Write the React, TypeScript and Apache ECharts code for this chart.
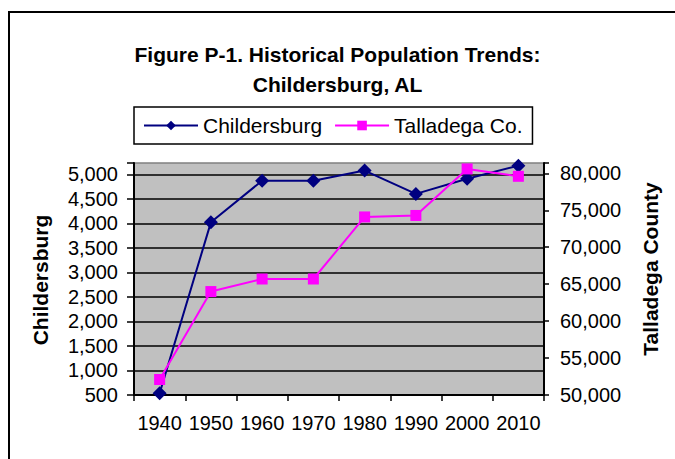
import React, { useEffect, useRef } from "react";
import * as echarts from "echarts";

const years = ["1940", "1950", "1960", "1970", "1980", "1990", "2000", "2010"];
const childersburg = [535, 4020, 4870, 4870, 5075, 4600, 4910, 5175];
const talladega = [52100, 64000, 65700, 65700, 74100, 74300, 80600, 79600];
const seriesNames = ["Childersburg", "Talladega Co."];
const titleLines = ["Figure P-1. Historical Population Trends:", "Childersburg, AL"];
const leftAxisName = "Childersburg";
const rightAxisName = "Talladega County";

const FONT = "'Liberation Sans', Arial, sans-serif";

const fmt = (v: number) => v.toLocaleString("en-US");

export default function App() {
  const ref = useRef<HTMLDivElement>(null);
  useEffect(() => {
    if (!ref.current) return;
    const chart = echarts.init(ref.current, undefined, { renderer: "svg" });
    chart.setOption({
      animation: false,
      backgroundColor: "#ffffff",
      textStyle: { fontFamily: FONT },
      title: {
        text: titleLines.join("\n"),
        left: "center",
        top: 34,
        textStyle: {
          fontFamily: FONT,
          fontSize: 21,
          fontWeight: "bold",
          color: "#000",
          lineHeight: 30,
        },
      },
      legend: {
        data: seriesNames,
        left: 134,
        top: 107,
        orient: "horizontal",
        itemWidth: 54,
        itemHeight: 12,
        itemGap: 12,
        padding: [8, 10, 8, 9],
        borderColor: "#000",
        borderWidth: 1.5,
        textStyle: { fontFamily: FONT, fontSize: 21, color: "#000" },
      },
      grid: {
        left: 134,
        right: 131,
        top: 163,
        bottom: 64,
        show: true,
        backgroundColor: "#c0c0c0",
        borderColor: "#808080",
        borderWidth: 1.5,
      },
      xAxis: {
        type: "category",
        data: years,
        boundaryGap: true,
        axisLine: { lineStyle: { color: "#000", width: 2 } },
        axisTick: { show: true, length: 6, lineStyle: { color: "#000", width: 1.5 } },
        axisLabel: {
          interval: 0,
          margin: 18,
          fontFamily: FONT,
          fontSize: 20,
          color: "#000",
        },
      },
      yAxis: [
        {
          type: "value",
          min: 500,
          max: 5230,
          interval: 500,
          position: "left",
          axisLine: { show: true, lineStyle: { color: "#000", width: 2 } },
          axisTick: { show: true, length: 7, lineStyle: { color: "#000", width: 1.5 } },
          axisLabel: {
            margin: 16,
            fontFamily: FONT,
            fontSize: 20,
            color: "#000",
            formatter: (v: number) => (v % 500 === 0 ? fmt(v) : ""),
          },
          splitLine: {
            show: true,
            showMaxLine: false,
            lineStyle: { color: "#000", width: 1.5 },
          },
        },
        {
          type: "value",
          min: 50000,
          max: 81400,
          interval: 5000,
          position: "right",
          axisLine: { show: true, lineStyle: { color: "#000", width: 2 } },
          axisTick: { show: true, length: 5, lineStyle: { color: "#000", width: 1.5 } },
          axisLabel: {
            margin: 16,
            fontFamily: FONT,
            fontSize: 20,
            color: "#000",
            formatter: (v: number) => (v % 5000 === 0 ? fmt(v) : ""),
          },
          splitLine: { show: false },
        },
      ],
      series: [
        {
          name: seriesNames[0],
          type: "line",
          data: childersburg,
          yAxisIndex: 0,
          symbol: "diamond",
          symbolSize: 14,
          color: "#000080",
          itemStyle: { color: "#000080" },
          lineStyle: { color: "#000080", width: 2 },
          z: 3,
        },
        {
          name: seriesNames[1],
          type: "line",
          data: talladega,
          yAxisIndex: 1,
          symbol: "rect",
          symbolSize: 11,
          color: "#ff00ff",
          itemStyle: { color: "#ff00ff" },
          lineStyle: { color: "#ff00ff", width: 2 },
          z: 4,
        },
      ],
      graphic: [
        {
          type: "polyline",
          shape: { points: [[9, 470], [9, 12], [680, 12]] },
          style: { stroke: "#000", lineWidth: 2, fill: "none" },
          silent: true,
        },
        {
          type: "text",
          x: 40,
          y: 280,
          rotation: Math.PI / 2,
          style: {
            text: leftAxisName,
            fontFamily: FONT,
            fontSize: 21,
            fontWeight: "bold",
            fill: "#000",
            align: "center",
            verticalAlign: "middle",
          },
        },
        {
          type: "text",
          x: 650,
          y: 269,
          rotation: Math.PI / 2,
          style: {
            text: rightAxisName,
            fontFamily: FONT,
            fontSize: 21,
            fontWeight: "bold",
            fill: "#000",
            align: "center",
            verticalAlign: "middle",
          },
        },
      ],
    });
    return () => chart.dispose();
  }, []);
  return (
    <div
      ref={ref}
      style={{ position: "absolute", left: 0, top: 0, width: 675, height: 459 }}
    />
  );
}
